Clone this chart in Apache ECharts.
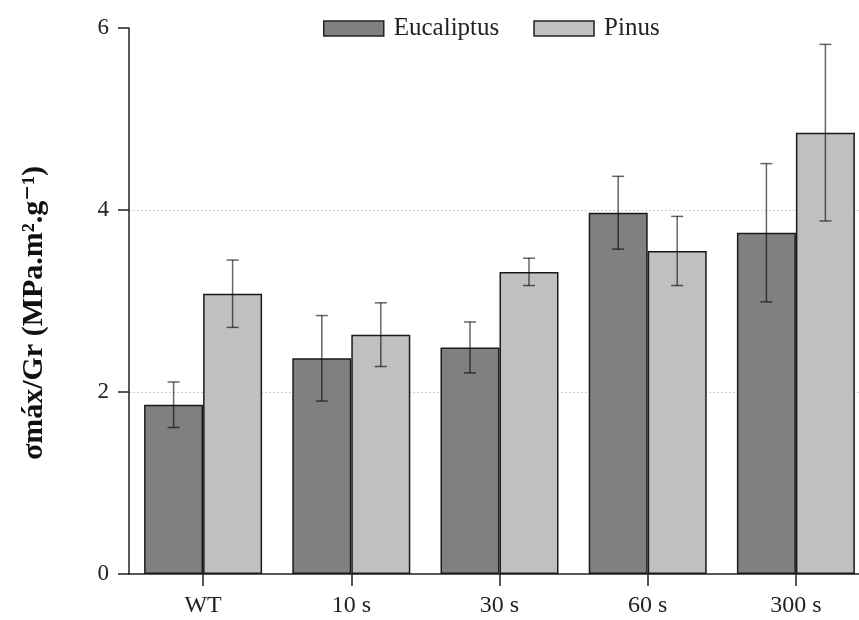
<!DOCTYPE html>
<html>
<head>
<meta charset="utf-8">
<script src="https://cdn.jsdelivr.net/npm/echarts@6/dist/echarts.min.js"></script>
<style>
  html, body { margin: 0; padding: 0; background: #fff; }
  #chart { width: 859px; height: 620px; }
</style>
</head>
<body>
<div id="chart"></div>
<script>
// categorias e valores
const categories = ['WT', '10 s', '30 s', '60 s', '300 s'];
const eucaliptus = [1.86, 2.37, 2.49, 3.97, 3.75];
const eucaliptusErr = [0.25, 0.47, 0.28, 0.40, 0.76];
const pinus = [3.08, 2.63, 3.32, 3.55, 4.85];
const pinusErr = [0.37, 0.35, 0.15, 0.38, 0.97];
const yTicks = [0, 2, 4, 6];

const serif = '"Liberation Serif", "DejaVu Serif", serif';
const BAR_W = 59;

// barra de erro desenhada por série custom, deslocada para o centro de cada barra
const errorSeries = (name, vals, errs, shift) => ({
  type: 'custom',
  name: name + ' err',
  z: 10,
  silent: true,
  renderItem: (params, api) => {
    const i = api.value(0);
    const lo = api.coord([i, api.value(1)]);
    const hi = api.coord([i, api.value(2)]);
    const x = lo[0] + shift;
    const cap = 6;
    const style = { stroke: 'rgba(0,0,0,0.6)', lineWidth: 1.5 };
    return {
      type: 'group',
      children: [
        { type: 'line', shape: { x1: x, y1: hi[1], x2: x, y2: lo[1] }, style },
        { type: 'line', shape: { x1: x - cap, y1: hi[1], x2: x + cap, y2: hi[1] }, style },
        { type: 'line', shape: { x1: x - cap, y1: lo[1], x2: x + cap, y2: lo[1] }, style }
      ]
    };
  },
  data: vals.map((v, i) => [i, v - errs[i], v + errs[i]])
});

const chart = echarts.init(document.getElementById('chart'));
chart.setOption({
  animation: false,
  backgroundColor: '#fff',
  textStyle: { fontFamily: serif },
  legend: {
    top: 11,
    left: 318,
    icon: 'rect',
    itemWidth: 60,
    itemHeight: 15,
    itemGap: 34,
    data: ['Eucaliptus', 'Pinus'],
    itemStyle: { borderColor: '#222', borderWidth: 1.5 },
    textStyle: { fontFamily: serif, fontSize: 25, color: '#222', padding: [0, 0, 0, 5] }
  },
  // a grade passa da borda direita da imagem, como no original recortado
  grid: { left: 129, width: 741, top: 28, bottom: 46, containLabel: false, outerBoundsMode: 'none' },
  xAxis: {
    type: 'category',
    data: categories,
    axisLine: { lineStyle: { color: '#222', width: 1.5 } },
    axisTick: { show: true, alignWithLabel: true, length: 12, lineStyle: { color: '#222', width: 1.5 } },
    axisLabel: { fontFamily: serif, fontSize: 24, color: '#222', margin: 20 }
  },
  yAxis: {
    type: 'value',
    min: yTicks[0],
    max: yTicks[yTicks.length - 1],
    interval: 2,
    name: 'σmáx/Gr (MPa.m².g⁻¹)',
    nameLocation: 'middle',
    nameGap: 80,
    nameTextStyle: { fontFamily: serif, fontSize: 30, fontWeight: 'bold', color: '#111', padding: [0, 24, 0, 0] },
    axisLine: { show: true, lineStyle: { color: '#222', width: 1.5 } },
    axisTick: { show: true, length: 11, lineStyle: { color: '#222', width: 1.5 } },
    axisLabel: { fontFamily: serif, fontSize: 23, color: '#222', margin: 20 },
    splitLine: {
      show: true,
      lineStyle: { color: ['transparent', '#cfcfcf', '#cfcfcf', 'transparent'], type: [2, 2], width: 1 }
    }
  },
  series: [
    {
      name: 'Eucaliptus',
      type: 'bar',
      barWidth: BAR_W,
      barGap: '0%',
      data: eucaliptus,
      itemStyle: { color: '#808080', borderColor: '#1a1a1a', borderWidth: 1.5 }
    },
    {
      name: 'Pinus',
      type: 'bar',
      barWidth: BAR_W,
      barGap: '0%',
      data: pinus,
      itemStyle: { color: '#c0c0c0', borderColor: '#1a1a1a', borderWidth: 1.5 }
    },
    errorSeries('Eucaliptus', eucaliptus, eucaliptusErr, -BAR_W / 2),
    errorSeries('Pinus', pinus, pinusErr, BAR_W / 2)
  ]
});
</script>
</body>
</html>
